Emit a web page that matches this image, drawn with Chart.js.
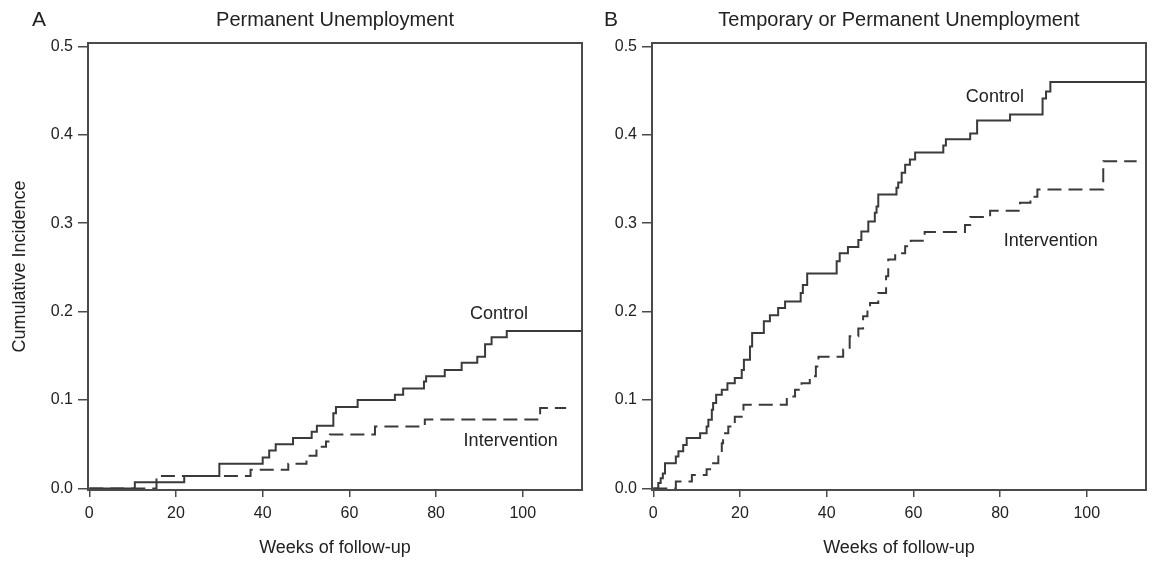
<!DOCTYPE html>
<html>
<head>
<meta charset="utf-8">
<script src="https://cdn.jsdelivr.net/npm/chart.js@4.4.1/dist/chart.umd.min.js"></script>
<style>
  html, body { margin: 0; padding: 0; background: #fff; }
  #wrap { position: relative; width: 1157px; height: 562px; }
  .panel { position: absolute; top: 0; height: 562px; }
  #panelA { left: 0; width: 600px; }
  #panelB { left: 600px; width: 557px; }
</style>
</head>
<body>
<div id="wrap">
  <div class="panel" id="panelA"><canvas id="chartA"></canvas></div>
  <div class="panel" id="panelB"><canvas id="chartB"></canvas></div>
</div>
<script>
// Tick labels
const weekTicks = [0, 20, 40, 60, 80, 100];
const incidenceTicks = [0, 0.1, 0.2, 0.3, 0.4, 0.5];

// Panel A - permanent unemployment
const aControlWeeks = [0, 10.5, 21.9, 30, 40, 41.5, 43, 47, 51.3, 52.5, 56.3, 56.9, 61.9, 70.5, 72.4, 77.2, 77.7, 82, 85.9, 89.5, 91.3, 92.8, 96.3, 113.6];
const aControlValues = [0, 0.007, 0.014, 0.028, 0.035, 0.043, 0.050, 0.057, 0.064, 0.071, 0.085, 0.092, 0.100, 0.106, 0.113, 0.121, 0.127, 0.134, 0.142, 0.149, 0.163, 0.171, 0.178, 0.178];
const aInterventionWeeks = [0, 15.5, 37.2, 45.9, 50.1, 52.4, 54.6, 55.5, 65.9, 77.4, 104, 110];
const aInterventionValues = [0, 0.014, 0.021, 0.028, 0.037, 0.047, 0.053, 0.061, 0.070, 0.078, 0.091, 0.091];

// Panel B - temporary or permanent unemployment
const bControlWeeks = [0, 1.15, 1.7, 2.2, 2.7, 5.2, 5.8, 6.9, 7.7, 10.8, 12.3, 12.7, 13.5, 13.8, 14.5, 15.8, 17.1, 18.8, 20.4, 20.9, 22.3, 22.8, 25.5, 26.9, 28.8, 30.4, 34, 34.5, 35.5, 42.3, 43, 44.9, 47.3, 48, 49.6, 51.1, 51.5, 51.9, 56.1, 56.5, 57.3, 58.1, 59.2, 60.4, 66.9, 67.5, 73.1, 74.7, 82.3, 89.8, 90.6, 91.6, 113.6];
const bControlValues = [0, 0.006, 0.0115, 0.017, 0.0285, 0.036, 0.042, 0.049, 0.057, 0.0625, 0.070, 0.0776, 0.089, 0.0965, 0.106, 0.1115, 0.119, 0.125, 0.134, 0.1455, 0.1606, 0.1757, 0.189, 0.196, 0.204, 0.2115, 0.221, 0.230, 0.243, 0.257, 0.266, 0.273, 0.281, 0.2905, 0.302, 0.3117, 0.319, 0.3324, 0.340, 0.346, 0.357, 0.366, 0.372, 0.380, 0.388, 0.395, 0.4015, 0.416, 0.423, 0.441, 0.449, 0.4596, 0.4596];
const bInterventionWeeks = [0, 5.2, 8.9, 12.3, 13.5, 15, 15.8, 16.1, 17.3, 18.8, 20.8, 30.8, 32.7, 34.2, 36.1, 37.5, 38.1, 43.8, 45.3, 47.3, 48.4, 49.4, 50, 51.9, 53.7, 54.2, 55.8, 58.1, 59.4, 62.6, 71.9, 73.1, 77.7, 84.6, 87, 88.6, 103.8, 111.5];
const bInterventionValues = [0, 0.0077, 0.0153, 0.0217, 0.0285, 0.040, 0.051, 0.0625, 0.070, 0.081, 0.0945, 0.104, 0.1115, 0.119, 0.127, 0.138, 0.149, 0.157, 0.172, 0.181, 0.1946, 0.204, 0.2097, 0.221, 0.240, 0.2588, 0.266, 0.274, 0.280, 0.290, 0.298, 0.307, 0.314, 0.323, 0.330, 0.338, 0.370, 0.370];

// Curve labels (week, incidence)
const aLabels = [["Control", 94.5, 0.197], ["Intervention", 97.2, 0.0536]];
const bLabels = [["Control", 78.8, 0.4428], ["Intervention", 91.7, 0.2803]];

const FONT = "'Liberation Sans', Arial, Helvetica, sans-serif";
const INK = "#222222";
const LINE = "#3a3a3a";
Chart.defaults.font.family = FONT;
Chart.defaults.color = INK;

const toPoints = (weeks, values) => weeks.map((w, i) => ({ x: w, y: values[i] }));

// frame, panel letter and curve labels
const extras = {
  id: "extras",
  afterDraw(chart, args, opts) {
    const { ctx, chartArea: a, scales } = chart;
    ctx.save();
    ctx.strokeStyle = "#4a4a4a";
    ctx.lineWidth = 2;
    ctx.strokeRect(a.left, a.top, a.right - a.left, a.bottom - a.top);

    ctx.fillStyle = INK;
    ctx.textAlign = "center";
    ctx.textBaseline = "middle";
    ctx.font = "21px " + FONT;
    ctx.fillText(opts.letter, opts.letterX, 20);

    ctx.font = "18px " + FONT;
    opts.labels.forEach(([txt, w, v]) => {
      ctx.fillText(txt, scales.x.getPixelForValue(w), scales.y.getPixelForValue(v));
    });
    ctx.restore();
  },
};

function makePanel(id, cfg) {
  return new Chart(document.getElementById(id), {
    type: "line",
    data: {
      datasets: [
        {
          label: "Control",
          data: toPoints(cfg.cw, cfg.cv),
          borderColor: LINE,
          borderWidth: 2,
          stepped: "before",
          pointRadius: 0,
          fill: false,
        },
        {
          label: "Intervention",
          data: toPoints(cfg.iw, cfg.iv),
          borderColor: LINE,
          borderWidth: 2,
          borderDash: [14, 7],
          stepped: "before",
          pointRadius: 0,
          fill: false,
        },
      ],
    },
    options: {
      responsive: true,
      maintainAspectRatio: false,
      animation: false,
      events: [],
      layout: { padding: { left: 0, right: cfg.padRight, top: 0, bottom: 0 } },
      plugins: {
        legend: { display: false },
        tooltip: { enabled: false },
        title: {
          display: true,
          text: cfg.title,
          fullSize: false,
          color: INK,
          font: { size: 20, weight: "normal" },
          padding: { top: 8, bottom: 11 },
        },
        extras: { letter: cfg.letter, letterX: cfg.letterX, labels: cfg.labels },
      },
      scales: {
        x: {
          type: "linear",
          min: -0.3,
          max: 113.66,
          afterBuildTicks: (s) => { s.ticks = weekTicks.map((v) => ({ value: v })); },
          afterFit: (s) => { s.height = 72; },
          ticks: { font: { size: 16 }, color: INK, padding: 7, maxRotation: 0, callback: (v) => String(v) },
          grid: { drawOnChartArea: false, tickLength: 7, color: "#4a4a4a", lineWidth: 1.5 },
          border: { display: false },
          title: { display: true, text: "Weeks of follow-up", color: INK, font: { size: 18 }, padding: { top: 0, bottom: 3 } },
        },
        y: {
          type: "linear",
          min: -0.0018,
          max: 0.5038,
          afterBuildTicks: (s) => { s.ticks = incidenceTicks.map((v) => ({ value: v })); },
          afterFit: (s) => { s.width = cfg.yWidth; },
          ticks: { font: { size: 16 }, color: INK, padding: 5, callback: (v) => v.toFixed(1) },
          grid: { drawOnChartArea: false, tickLength: 10, color: "#4a4a4a", lineWidth: 1.5 },
          border: { display: false },
          title: { display: cfg.yTitle, text: "Cumulative Incidence", color: INK, font: { size: 18 }, padding: { top: 9, bottom: 0 } },
        },
      },
    },
    plugins: [extras],
  });
}

makePanel("chartA", {
  cw: aControlWeeks, cv: aControlValues, iw: aInterventionWeeks, iv: aInterventionValues,
  title: "Permanent Unemployment", letter: "A", letterX: 39, labels: aLabels,
  yWidth: 88, yTitle: true, padRight: 18,
});
makePanel("chartB", {
  cw: bControlWeeks, cv: bControlValues, iw: bInterventionWeeks, iv: bInterventionValues,
  title: "Temporary or Permanent Unemployment", letter: "B", letterX: 11, labels: bLabels,
  yWidth: 52, yTitle: false, padRight: 11,
});
</script>
</body>
</html>
